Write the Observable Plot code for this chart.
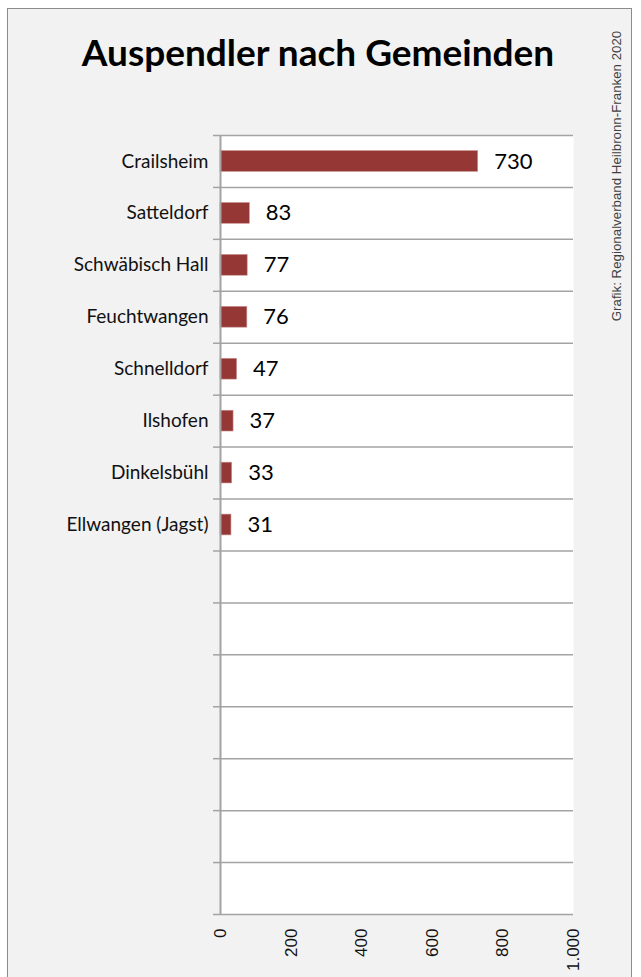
<!DOCTYPE html>
<html>
<head>
<meta charset="utf-8">
<script src="https://cdn.jsdelivr.net/npm/d3@7"></script>
<script src="https://cdn.jsdelivr.net/npm/@observablehq/plot@0.6"></script>
<style>
  html, body { margin: 0; padding: 0; background: #ffffff; }
  #wrap { position: relative; width: 641px; height: 977px; overflow: hidden; background: #ffffff; }
  #frame { position: absolute; left: 7px; top: 8px; width: 625px; height: 990px; border: 1.5px solid #8c8c8c; background: #f2f2f2; box-sizing: border-box; }
  #title { position: absolute; left: 0; width: 636px; top: 30px; text-align: center; font-family: Lato, "Open Sans", sans-serif; font-weight: bold; font-size: 37px; line-height: 44px; color: #000; }
  #credit { position: absolute; left: 616px; top: 176px; transform: translate(-50%, -50%) rotate(-90deg); white-space: nowrap; font-family: "Liberation Sans", Arial, sans-serif; font-size: 13.3px; color: #404040; }
  #chart { position: absolute; left: 0; top: 0; }
</style>
</head>
<body>
<div id="wrap">
  <div id="frame"></div>
  <div id="title">Auspendler nach Gemeinden</div>
  <div id="credit">Grafik: Regionalverband Heilbronn-Franken 2020</div>
  <div id="chart"></div>
</div>
<script>
const categories = ["Crailsheim", "Satteldorf", "Schwäbisch Hall", "Feuchtwangen", "Schnelldorf", "Ilshofen", "Dinkelsbühl", "Ellwangen (Jagst)"];
const values = [730, 83, 77, 76, 47, 37, 33, 31];
const rowCount = 15; // 8 filled rows + 7 empty rows
const xTicks = [0, 200, 400, 600, 800, 1000];

const data = categories.map((name, i) => ({name, value: values[i], i}));
const rows = d3.range(rowCount);
const boundaries = d3.range(rowCount + 1);

const gridColor = "#a3a3a3";

const chart = Plot.plot({
  width: 641,
  height: 977,
  marginTop: 135,
  marginBottom: 63,
  marginLeft: 220,
  marginRight: 68,
  style: {background: "transparent", overflow: "visible"},
  x: {domain: [0, 1000], label: null},
  y: {domain: [0, rowCount], reverse: true, label: null},
  marks: [
    Plot.frame({fill: "white", stroke: null}),
    Plot.ruleY(boundaries, {x1: 0, x2: 1000, stroke: gridColor, strokeWidth: 1.5}),
    Plot.axisY(boundaries, {tickSize: 7, tickFormat: () => "", stroke: gridColor, strokeWidth: 1.5, label: null}),
    Plot.axisY(rows.map(r => r + 0.5), {
      tickSize: 0, tickPadding: 12, label: null,
      tickFormat: v => categories[Math.floor(v)] ?? "",
      fontSize: 19, fontFamily: "Lato, 'Open Sans', sans-serif", fill: "#111"
    }),
    Plot.axisX(xTicks, {
      anchor: "bottom", tickSize: 0, tickPadding: 14, tickRotate: -90, label: null,
      tickFormat: d => d.toLocaleString("de-DE"),
      fontSize: 17, fontFamily: "'Liberation Sans', Arial, sans-serif", fill: "#111"
    }),
    Plot.rectX(data, {x1: 0, x2: "value", y1: d => d.i + 0.3, y2: d => d.i + 0.7, fill: "#953735", stroke: "#c98f8d", strokeWidth: 0.6}),
    Plot.ruleX([0], {y1: 0, y2: rowCount, stroke: gridColor, strokeWidth: 2}),
    Plot.text(data, {x: "value", y: d => d.i + 0.5, text: d => String(d.value), dx: 16, textAnchor: "start",
      fontSize: 22, fontFamily: "Lato, 'Open Sans', sans-serif", fill: "#000"})
  ]
});
document.getElementById("chart").appendChild(chart);
</script>
</body>
</html>
